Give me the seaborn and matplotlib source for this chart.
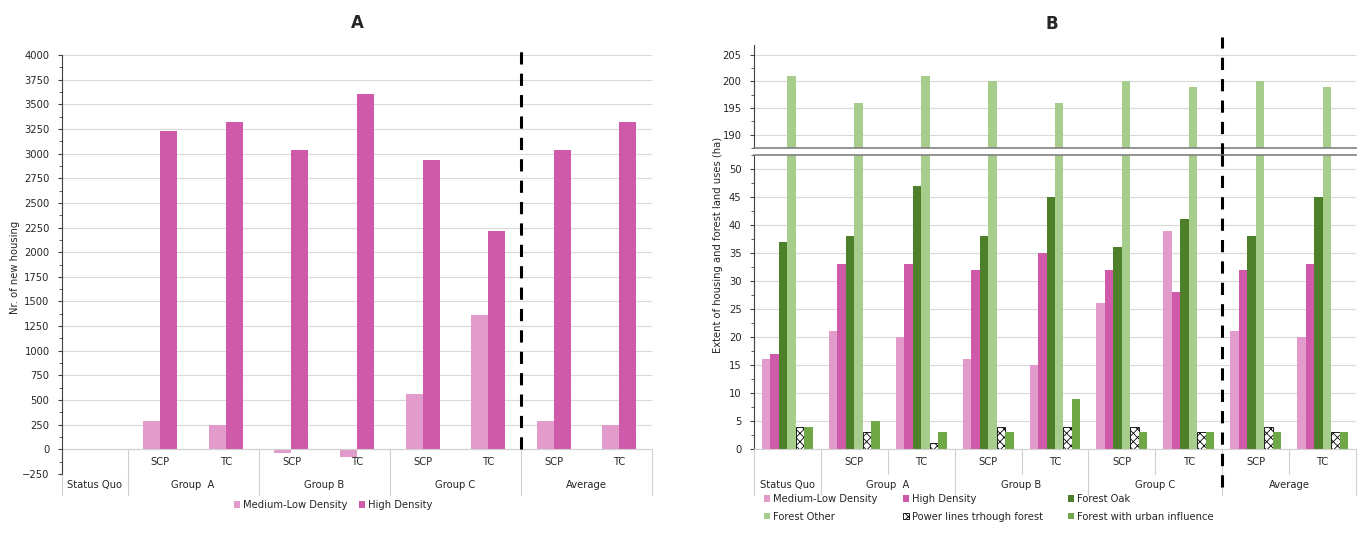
import matplotlib
matplotlib.use('Agg')
import matplotlib.pyplot as plt
from matplotlib.patches import Patch
import pandas as pd
import seaborn as sns

# categories (scenario order on x axis)
scenarios = ['Status Quo', 'A SCP', 'A TC', 'B SCP', 'B TC', 'C SCP', 'C TC', 'Avg SCP', 'Avg TC']
sub_labels = ['', 'SCP', 'TC', 'SCP', 'TC', 'SCP', 'TC', 'SCP', 'TC']
group_labels = ['Status Quo', 'Group  A', 'Group B', 'Group C', 'Average']

# panel A: new housing
housing_types = ['Medium-Low Density', 'High Density']
a_medium_low = [0, 290, 245, -35, -80, 560, 1360, 290, 245]
a_high = [0, 3230, 3320, 3040, 3600, 2935, 2215, 3040, 3320]

# panel B: extent of land uses (ha)
land_types = ['Medium-Low Density', 'High Density', 'Forest Oak', 'Forest Other',
              'Power lines trhough forest', 'Forest with urban influence']
b_medium_low = [16, 21, 20, 16, 15, 26, 39, 21, 20]
b_high = [17, 33, 33, 32, 35, 32, 28, 32, 33]
b_oak = [37, 38, 47, 38, 45, 36, 41, 38, 45]
b_other = [201, 196, 201, 200, 196, 200, 199, 200, 199]
b_power = [4, 3, 1, 4, 4, 4, 3, 4, 3]
b_urban = [4, 5, 3, 3, 9, 3, 3, 3, 3]

colors = {
    'Medium-Low Density': '#E29CCC',
    'High Density': '#D05AAA',
    'Forest Oak': '#4E802C',
    'Forest Other': '#A6CD8C',
    'Power lines trhough forest': '#FFFFFF',
    'Forest with urban influence': '#70A848',
}

df_a = pd.DataFrame({
    'scenario': scenarios * 2,
    'type': [housing_types[0]] * 9 + [housing_types[1]] * 9,
    'value': a_medium_low + a_high,
})
b_series = [b_medium_low, b_high, b_oak, b_other, b_power, b_urban]
df_b = pd.DataFrame({
    'scenario': scenarios * len(land_types),
    'type': [t for t in land_types for _ in scenarios],
    'value': [v for s in b_series for v in s],
})

sns.set_style('white')
plt.rcParams['font.family'] = ['DejaVu Sans']
plt.rcParams['hatch.linewidth'] = 0.6
FS = 7.2
GRID = '#D9D9D9'
TABLE = '#D0D0D0'

fig = plt.figure(figsize=(13.65, 5.33), dpi=100)

W, H = 1365, 533
def box(l, t, r, b):
    return [l / W, (H - b) / H, (r - l) / W, (b - t) / H]

# ---------------- panel A ----------------
ax = fig.add_axes(box(62, 55, 652, 474))
sns.barplot(data=df_a, x='scenario', y='value', hue='type', order=scenarios,
            hue_order=housing_types, palette=colors, width=0.52, saturation=1,
            errorbar=None, legend=False, linewidth=0, ax=ax)
ax.set_ylim(-250, 4000)
ax.set_xlim(-0.5, 8.5)
ax.set_yticks(range(-250, 4001, 250))
ax.set_yticks(range(-250, 4001, 125), minor=True)
ax.yaxis.grid(True, color=GRID, lw=0.8)
ax.set_axisbelow(True)
ax.tick_params(axis='y', which='major', labelsize=FS, length=3, width=0.8, color='#404040', left=True, pad=6)
ax.tick_params(axis='y', which='minor', length=2, width=0.6, color='#404040', left=True)
ax.set_xticks([])
ax.set_xlabel('')
ax.set_ylabel('')
for s in ['top', 'right', 'bottom']:
    ax.spines[s].set_visible(False)
ax.spines['left'].set_color('#404040')
ax.spines['left'].set_linewidth(0.8)
ax.axhline(0, color=TABLE, lw=0.8, zorder=1)

xt = ax.get_xaxis_transform()
for i, lab in enumerate(sub_labels):
    ax.text(i, 0.0286, lab, transform=xt, ha='center', va='center', fontsize=FS, color='#262626')
for lab, x in zip(group_labels, [0, 1.5, 3.5, 5.5, 7.5]):
    ax.text(x, -0.026, lab, transform=xt, ha='center', va='center', fontsize=FS, color='#262626')
for x in [-0.5, 0.5, 2.5, 4.5, 6.5, 8.5]:
    ax.plot([x, x], [0.0597, -0.05], transform=xt, color=TABLE, lw=0.8, clip_on=False)
ax.plot([6.5, 6.5], [0.0597, 1.017], transform=xt, color='black', lw=2.2,
        ls=(0, (4, 3)), clip_on=False, zorder=5)
ax.text(4, 1.055, 'A', transform=xt, ha='center', va='bottom', fontsize=12, fontweight='bold')
fig.text(15 / W, (H - 267) / H, 'Nr. of new housing', rotation=90, ha='center', va='center', fontsize=FS)

handles_a = [Patch(facecolor=colors[t], edgecolor='none', label=t) for t in housing_types]
fig.legend(handles=handles_a, loc='center', bbox_to_anchor=(333 / W, (H - 505) / H), ncol=2,
           frameon=False, fontsize=FS, handlelength=0.6, handleheight=0.6,
           handletextpad=0.3, columnspacing=1.2)

# ---------------- panel B ----------------
ax_top = fig.add_axes(box(754, 45, 1356, 148))
ax_bot = fig.add_axes(box(754, 155, 1356, 449))
for a in (ax_top, ax_bot):
    sns.barplot(data=df_b, x='scenario', y='value', hue='type', order=scenarios,
                hue_order=land_types, palette=colors, width=0.76, saturation=1,
                errorbar=None, legend=False, linewidth=0, ax=a)
    for bar in a.containers[4]:
        bar.set_hatch('xxxx')
        bar.set_edgecolor('black')
        bar.set_linewidth(0.6)
    a.set_xlim(-0.5, 8.5)
    a.set_xticks([])
    a.set_xlabel('')
    a.set_ylabel('')
    a.yaxis.grid(True, color=GRID, lw=0.8)
    a.set_axisbelow(True)
    a.tick_params(axis='y', which='major', labelsize=FS, length=3, width=0.8, color='#404040', left=True, pad=6)
    a.tick_params(axis='y', which='minor', length=2, width=0.6, color='#404040', left=True)
    a.spines['right'].set_visible(False)
    a.spines['left'].set_color('#404040')
    a.spines['left'].set_linewidth(0.8)

ax_top.set_ylim(188.4, 206.8)
ax_top.set_yticks([190, 195, 200, 205])
ax_top.set_yticks([187.5, 192.5, 197.5, 202.5], minor=True)
ax_top.spines['top'].set_visible(False)
ax_top.spines['bottom'].set_color('#808080')
ax_top.spines['bottom'].set_linewidth(1.2)

ax_bot.set_ylim(0, 52.1)
ax_bot.set_yticks(range(0, 51, 5))
ax_bot.set_yticks([x + 2.5 for x in range(0, 51, 5)], minor=True)
ax_bot.spines['top'].set_color('#808080')
ax_bot.spines['top'].set_linewidth(1.2)
ax_bot.spines['bottom'].set_color(TABLE)
ax_bot.spines['bottom'].set_linewidth(0.8)

xt = ax_bot.get_xaxis_transform()
for i, lab in enumerate(sub_labels):
    ax_bot.text(i, -0.044, lab, transform=xt, ha='center', va='center', fontsize=FS, color='#262626')
for lab, x in zip(group_labels, [0, 1.5, 3.5, 5.5, 7.5]):
    ax_bot.text(x, -0.122, lab, transform=xt, ha='center', va='center', fontsize=FS, color='#262626')
for x in [-0.5, 0.5, 2.5, 4.5, 6.5, 8.5]:
    ax_bot.plot([x, x], [0, -0.156], transform=xt, color=TABLE, lw=0.8, clip_on=False)
for x in [1.5, 3.5, 5.5, 7.5]:
    ax_bot.plot([x, x], [0, -0.085], transform=xt, color=TABLE, lw=0.8, clip_on=False)
ax_bot.plot([6.5, 6.5], [-0.13, 1.0], transform=xt, color='black', lw=2.2,
            ls=(0, (4, 3)), clip_on=False, zorder=5)
xt_top = ax_top.get_xaxis_transform()
ax_top.plot([6.5, 6.5], [-0.07, 1.078], transform=xt_top, color='black', lw=2.2,
            ls=(0, (4, 3)), clip_on=False, zorder=5)
ax_top.text(3.95, 1.12, 'B', transform=xt_top, ha='center', va='bottom', fontsize=12, fontweight='bold')
fig.text(718 / W, (H - 245) / H, 'Extent of housing and forest land uses (ha)', rotation=90,
         ha='center', va='center', fontsize=FS)

handles_b = []
for t in land_types:
    if t.startswith('Power'):
        handles_b.append(Patch(facecolor='white', edgecolor='black', hatch='xxxx', lw=0.6, label=t))
    else:
        handles_b.append(Patch(facecolor=colors[t], edgecolor='none', label=t))
order = [0, 3, 1, 4, 2, 5]
fig.legend(handles=[handles_b[i] for i in order], loc='upper left',
           bbox_to_anchor=(764 / W, (H - 494) / H, 450 / W, 0), mode='expand', ncol=3,
           frameon=False, fontsize=FS, handlelength=0.6, handleheight=0.6,
           handletextpad=0.3, labelspacing=0.75, borderaxespad=0, borderpad=0)

fig.savefig('out.png', dpi=100)
